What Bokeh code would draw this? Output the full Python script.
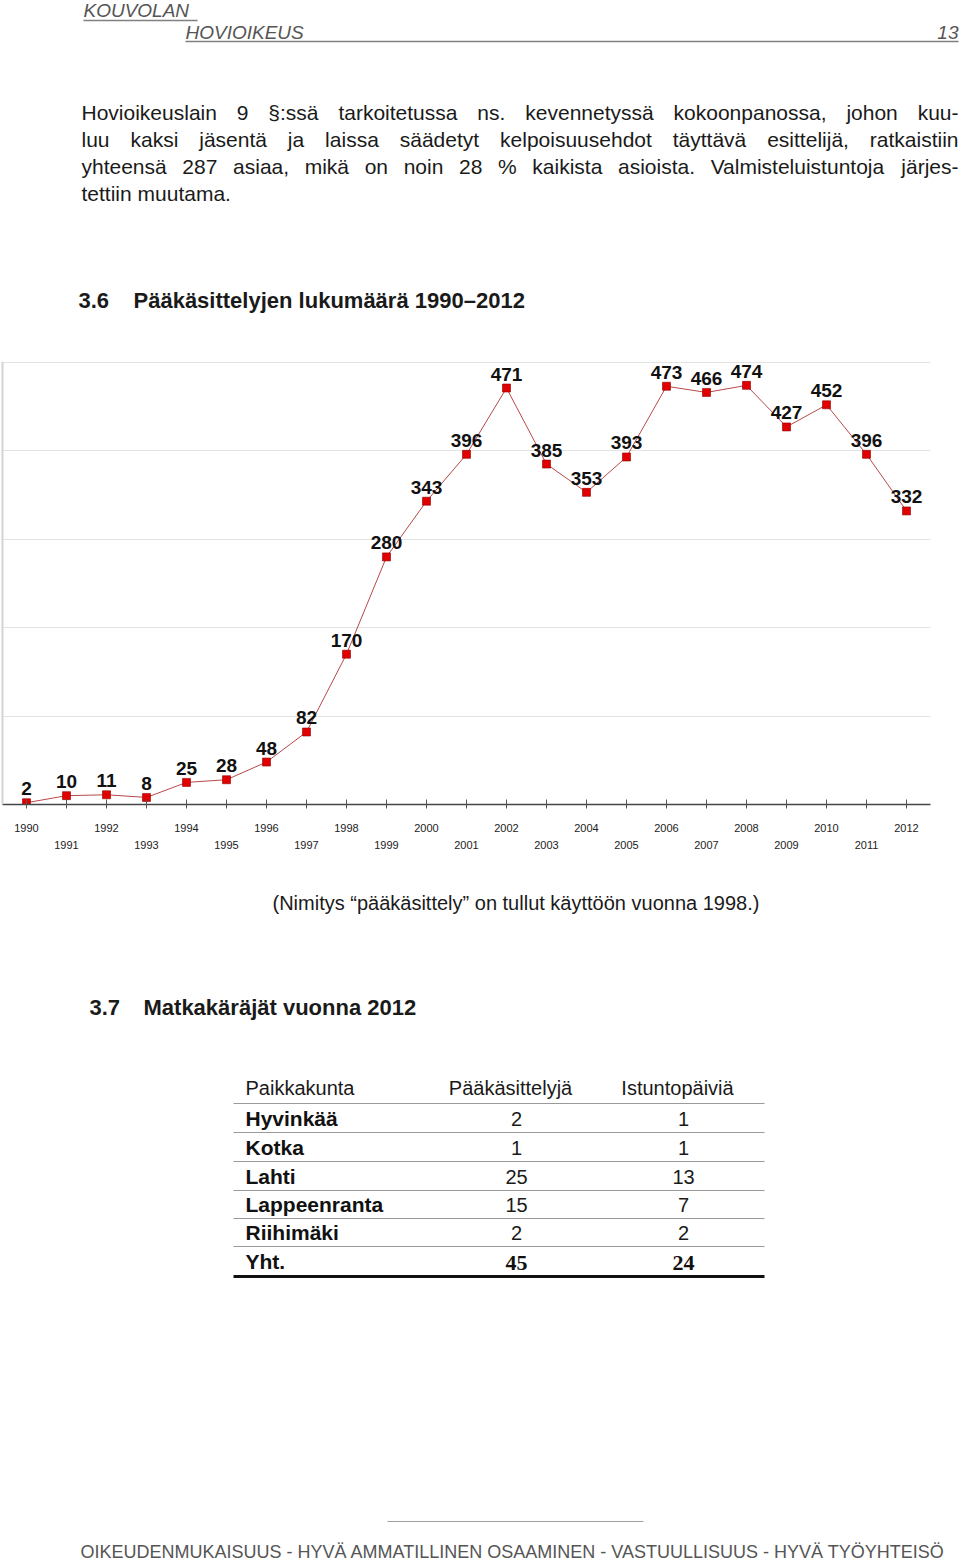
from bokeh.plotting import figure
from bokeh.models import Range1d, FixedTicker, LinearAxis
from bokeh.layouts import column
from bokeh.embed import file_html
from bokeh.resources import INLINE
from bokeh.core.properties import value

# ---------------- data ----------------
years = list(range(1990, 2013))
counts = [2, 10, 11, 8, 25, 28, 48, 82, 170, 280, 343, 396, 471,
          385, 353, 393, 473, 466, 474, 427, 452, 396, 332]
grid_ticks = [100, 200, 300, 400, 500]
even_years = [y for y in years if y % 2 == 0]
odd_years = [y for y in years if y % 2 == 1]

table_headers = ["Paikkakunta", "Pääkäsittelyjä", "Istuntopäiviä"]
cities = ["Hyvinkää", "Kotka", "Lahti", "Lappeenranta", "Riihimäki"]
main_cases = [2, 1, 25, 15, 2]
session_days = [1, 1, 13, 7, 2]
total_label = "Yht."
total_cases = 45
total_days = 24

header_top = "KOUVOLAN"
header_bottom = "HOVIOIKEUS"
page_number = "13"
paragraph = [
    "Hovioikeuslain 9 §:ssä tarkoitetussa ns. kevennetyssä kokoonpanossa, johon kuu-",
    "luu kaksi jäsentä ja laissa säädetyt kelpoisuusehdot täyttävä esittelijä, ratkaistiin",
    "yhteensä 287 asiaa, mikä on noin 28 % kaikista asioista. Valmisteluistuntoja järjes-",
    "tettiin muutama.",
]
chart_num = "3.6"
chart_title = "Pääkäsittelyjen lukumäärä 1990–2012"
caption = "(Nimitys “pääkäsittely” on tullut käyttöön vuonna 1998.)"
table_num = "3.7"
table_title = "Matkakäräjät vuonna 2012"
footer = "OIKEUDENMUKAISUUS - HYVÄ AMMATILLINEN OSAAMINEN - VASTUULLISUUS - HYVÄ TYÖYHTEISÖ"

FONT = "Liberation Sans"
W = 960

# approximate advance widths (1/1000 em) of Liberation Sans regular
AW = {" ": 278, ",": 278, ".": 278, ":": 278, "-": 333, "%": 889, "§": 556,
      "H": 722, "V": 667, "i": 222, "j": 222, "l": 222, "f": 278, "t": 278,
      "r": 333, "c": 500, "k": 500, "s": 500, "v": 500, "x": 500, "y": 500,
      "z": 500, "m": 833, "w": 722}


def text_w(s, size):
    return sum(AW.get(ch, 556) for ch in s) / 1000.0 * size


def page_fig(top, bottom):
    f = figure(width=W, height=bottom - top, x_range=Range1d(0, W),
               y_range=Range1d(bottom, top), output_backend="svg",
               toolbar_location=None, min_border=0,
               x_axis_location=None, y_axis_location=None)
    f.grid.visible = False
    f.outline_line_color = None
    return f


def txt(f, x, y, s, size, style="normal", color="#1a1a1a", align="left", font=FONT):
    f.text(x=[x], y=[y], text=[s], text_font=value(font), text_font_size=f"{size}px",
           text_font_style=style, text_color=color, text_align=align,
           text_baseline="middle")


def justified(f, line, x0, x1, y, size):
    words = line.split(" ")
    widths = [text_w(w, size) for w in words]
    gap = (x1 - x0 - sum(widths)) / (len(words) - 1)
    x = x0
    for k, (w, wd) in enumerate(zip(words, widths)):
        if k == len(words) - 1:
            txt(f, x1, y, w, size, align="right")
        else:
            txt(f, x, y, w, size)
        x += wd + gap


# ---------------- top text ----------------
T1, B1 = 0, 355
f1 = page_fig(T1, B1)
txt(f1, 83, 10, header_top, 19, "italic", "#555555")
f1.segment(x0=[83], y0=[20], x1=[197], y1=[20], line_color="#808080", line_width=1.5)
txt(f1, 185, 32, header_bottom, 19, "italic", "#555555")
txt(f1, 958, 32, page_number, 19, "italic", "#555555", align="right")
f1.segment(x0=[185], y0=[41], x1=[958], y1=[41], line_color="#808080", line_width=1.5)
for i, line in enumerate(paragraph):
    if i < len(paragraph) - 1:
        justified(f1, line, 81, 958, 112 + 27 * i, 21)
    else:
        txt(f1, 81, 112 + 27 * i, line, 21)
txt(f1, 78, 300, chart_num, 22, "bold")
txt(f1, 133, 300, chart_title, 22, "bold")

# ---------------- chart ----------------
# frame spans the full width (so the column keeps all frames aligned);
# 40 px per year with 1990 at x=26
X0, X1 = 1989.4, 2012.6          # extent of the plotted area
T2, B2 = 355, 865
c = figure(width=W, height=B2 - T2, x_range=Range1d(1989.35, 2013.35),
           y_range=Range1d(0, 501), output_backend="svg", toolbar_location=None,
           min_border_top=6, min_border_bottom=61, min_border_left=0,
           min_border_right=0)
c.outline_line_color = None
c.xgrid.visible = False

ya = c.yaxis[0]
ya.ticker = FixedTicker(ticks=[])
ya.fixed_location = X0
ya.major_tick_line_color = None
ya.minor_tick_line_color = None
ya.major_tick_in = 0
ya.major_tick_out = 0
ya.major_label_standoff = 0
ya.axis_line_color = "#d4d4d4"
ya.axis_line_width = 2

xa = c.xaxis[0]
xa.bounds = (X0, X1)
xa.ticker = FixedTicker(ticks=even_years, minor_ticks=odd_years)
xa.major_tick_in = 5
xa.major_tick_out = 4
xa.minor_tick_in = 5
xa.minor_tick_out = 4
xa.major_tick_line_color = "#555555"
xa.minor_tick_line_color = "#555555"
xa.axis_line_color = "#444444"
xa.axis_line_width = 1.5
xa.major_label_standoff = 15
xa.major_label_text_font = FONT
xa.major_label_text_font_size = "11px"
xa.major_label_text_color = "#222222"

xb = LinearAxis(ticker=FixedTicker(ticks=odd_years),
                axis_line_color=None, major_tick_line_color=None,
                minor_tick_line_color=None, major_tick_in=0, major_tick_out=0,
                major_label_standoff=6, major_label_text_font=FONT,
                major_label_text_font_size="11px", major_label_text_color="#222222")
c.add_layout(xb, "below")

yg = c.ygrid[0]
if "cross_bounds" in yg.properties():
    yg.ticker = FixedTicker(ticks=grid_ticks)
    yg.cross_bounds = (X0, X1)
    yg.grid_line_color = "#e3e3e3"
else:
    yg.visible = False
    c.segment(x0=[X0] * len(grid_ticks), y0=grid_ticks,
              x1=[X1] * len(grid_ticks), y1=grid_ticks,
              line_color="#e3e3e3", line_width=1)

c.line(years, counts, line_color="#b84848", line_width=1)
c.scatter(years, counts, marker="square", size=8, fill_color="#e00000",
          line_color="#900000", line_width=0.6)
c.text(x=years, y=counts, text=[str(v) for v in counts], text_font=value(FONT),
       text_font_size="19px", text_font_style="bold", text_color="#111111",
       text_align="center", text_baseline="middle", y_offset=-14)

# ---------------- bottom text ----------------
T3, B3 = 865, 1560
f3 = page_fig(T3, B3)
txt(f3, 272, 902, caption, 20)
txt(f3, 89, 1007, table_num, 22, "bold")
txt(f3, 143, 1007, table_title, 22, "bold")

col_x = [245, 510, 677]
txt(f3, col_x[0], 1087, table_headers[0], 20)
txt(f3, col_x[1], 1087, table_headers[1], 20, align="center")
txt(f3, col_x[2], 1087, table_headers[2], 20, align="center")
f3.segment(x0=[233], y0=[1103], x1=[764], y1=[1103], line_color="#9a9a9a", line_width=1)
row_y = [1118, 1147, 1176, 1204, 1232]
for i, name in enumerate(cities):
    txt(f3, col_x[0], row_y[i], name, 21, "bold", "#111111")
    txt(f3, 516, row_y[i], str(main_cases[i]), 20, align="center")
    txt(f3, 683, row_y[i], str(session_days[i]), 20, align="center")
    f3.segment(x0=[233], y0=[row_y[i] + 14], x1=[764], y1=[row_y[i] + 14],
               line_color="#9a9a9a", line_width=1)
txt(f3, col_x[0], 1261, total_label, 21, "bold", "#111111")
txt(f3, 516, 1262, str(total_cases), 22, "bold", "#111111", "center", "Liberation Serif")
txt(f3, 683, 1262, str(total_days), 22, "bold", "#111111", "center", "Liberation Serif")
f3.segment(x0=[233], y0=[1276], x1=[764], y1=[1276], line_color="#111111", line_width=3)

f3.segment(x0=[387], y0=[1521], x1=[643], y1=[1521], line_color="#a0a0a0", line_width=1)
txt(f3, 80, 1551, footer, 18, color="#555555")

layout = column(f1, c, f3, spacing=0)
open("out.html", "w").write(file_html(layout, INLINE))
